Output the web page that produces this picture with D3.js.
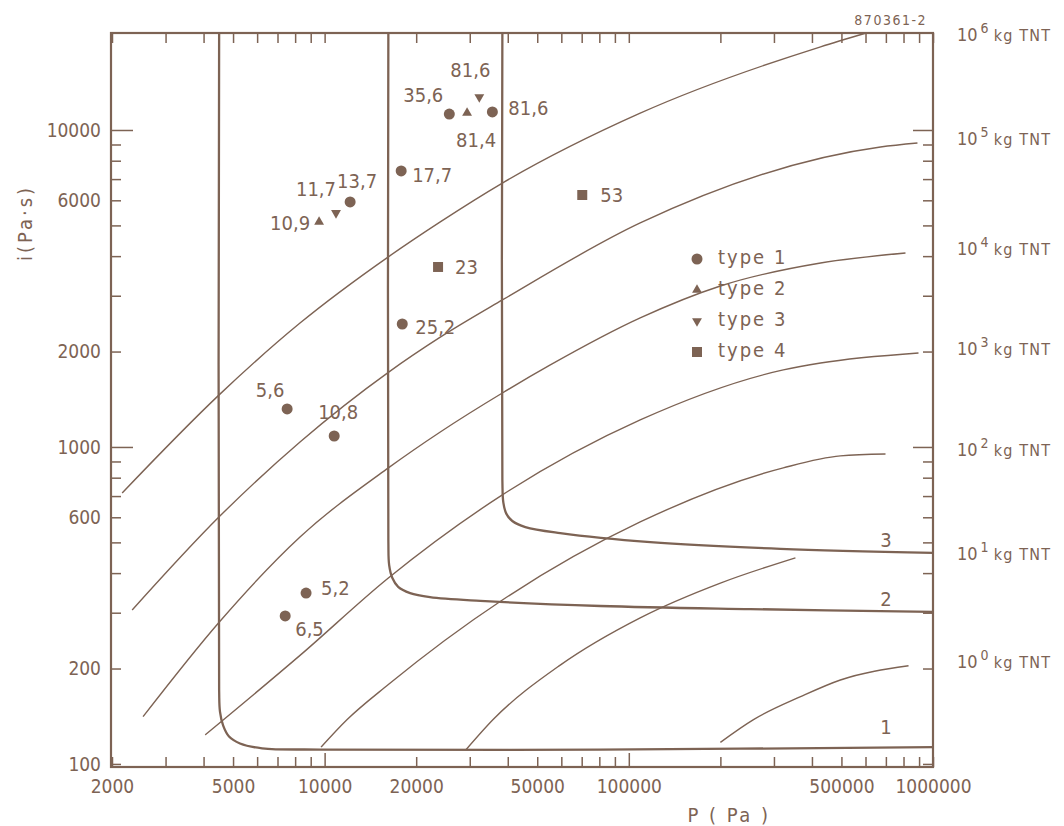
<!DOCTYPE html>
<html>
<head>
<meta charset="utf-8">
<script src="https://cdn.jsdelivr.net/npm/d3@7"></script>
<style>
  body { margin: 0; background: #ffffff; }
  text { font-family: "DejaVu Sans Condensed", "DejaVu Sans", sans-serif; fill: #7d6354; }
</style>
</head>
<body>
<svg id="chart" width="1064" height="826"></svg>
<script>
// Peak overpressure P (Pa) against specific impulse i (Pa·s), log–log,
// with iso-charge curves (kg TNT), damage thresholds 1–3 and observed cases.

// ---- axes ----
const xDomain = [2000, 1000000];
const yDomain = [97.8, 20230];
const xTicks = [2000, 3000, 4000, 5000, 6000, 7000, 8000, 9000,
  10000, 20000, 30000, 40000, 50000, 60000, 70000, 80000, 90000,
  100000, 200000, 300000, 400000, 500000, 600000, 700000, 800000, 900000, 1000000];
const xTickLabels = [2000, 5000, 10000, 20000, 50000, 100000, 500000, 1000000];
const xMajor = [10000, 100000];
const yTicks = [100, 200, 300, 400, 500, 600, 700, 800, 900,
  1000, 2000, 3000, 4000, 5000, 6000, 7000, 8000, 9000, 10000];
const yTickLabels = [100, 200, 600, 1000, 2000, 6000, 10000];
const yMajor = [1000, 10000];

// ---- iso-charge curves, [P, i] ----
const chargeExponents = [6, 5, 4, 3, 2, 1, 0];
const charge1e6 = [[2160, 716], [4500, 1460], [8300, 2460], [16200, 3980], [24000, 5130],
  [38400, 6800], [109000, 11300], [427000, 18300], [600000, 20200]];
const charge1e5 = [[2330, 306], [4500, 602], [8300, 1037], [16200, 1720], [24000, 2220],
  [38400, 2909], [109000, 5090], [672000, 8840], [889000, 9100]];
const charge1e4 = [[2530, 141], [4500, 280], [8300, 520], [16200, 859], [24000, 1115],
  [38400, 1480], [55200, 1814], [109000, 2553], [200000, 3220], [427000, 3805], [812000, 4092]];
const charge1e3 = [[4050, 123.5], [8300, 220], [16200, 386], [38400, 706],
  [109000, 1217], [322000, 1750], [427000, 1841], [896000, 1980]];
const charge1e2 = [[9740, 113], [11860, 138], [16200, 178], [38400, 329], [109000, 580],
  [322000, 859], [496000, 937], [698000, 950]];
const charge1e1 = [[29200, 111], [35800, 138], [59500, 205], [109000, 289], [200000, 372],
  [353000, 447]];
const charge1e0 = [[200000, 117], [257000, 138], [367000, 163], [496000, 184], [831000, 204]];
const chargeCurves = [charge1e6, charge1e5, charge1e4, charge1e3, charge1e2, charge1e1, charge1e0];

// ---- damage thresholds, [P, i] ----
const thresholdNames = ["1", "2", "3"];
const threshold1 = [[4500, 20200], [4500, 171], [4530, 146], [4640, 132], [4850, 122],
  [5270, 116], [6230, 112], [9670, 111], [80600, 111], [1000000, 113]];
const threshold2 = [[16200, 20200], [16200, 509], [16300, 424], [16700, 386], [17450, 362],
  [19100, 346], [22200, 336], [32500, 327], [80600, 315], [251000, 308], [1000000, 302]];
const threshold3 = [[38400, 20200], [38400, 787], [38700, 666], [39600, 615], [41400, 584],
  [45700, 559], [59500, 535], [117700, 501], [315000, 477], [1000000, 463]];
const thresholdCurves = [threshold1, threshold2, threshold3];

// ---- observed cases ----
const caseType  = [1, 1, 1, 1, 1, 1, 1, 1, 1, 2, 2, 3, 3, 4, 4];
const caseP     = [25700, 35600, 17850, 12130, 18000, 7530, 10750, 8690, 7420,
                   29400, 9590, 32250, 10900, 70300, 23600];
const caseI     = [11230, 11400, 7425, 5928, 2443, 1318, 1083, 346, 293,
                   11315, 5127, 12710, 5473, 6237, 3697];
const caseLabel = ["35,6", "81,6", "17,7", "13,7", "25,2", "5,6", "10,8", "5,2", "6,5",
                   "81,4", "10,9", "81,6", "11,7", "53", "23"];
const legendLabels = ["type 1", "type 2", "type 3", "type 4"];

// label placement next to each marker: [dx, dy, anchor]
const labelPlacement = [[-6, -12, "end"], [16, 3, "start"], [11, 11, "start"], [7, -14, "middle"],
  [13, 10, "start"], [-17, -12, "middle"], [4, -17, "middle"], [15, 2, "start"], [10, 20, "start"],
  [9, 34, "middle"], [-9, 8, "end"], [-9, -20, "middle"], [-20, -17, "middle"],
  [18, 7, "start"], [17, 7, "start"]];

// ---- drawing ----
const ink = "#7d6354";
const svg = d3.select("#chart");
const x = d3.scaleLog().domain(xDomain).range([112, 933]);
const y = d3.scaleLog().domain(yDomain).range([767, 33]);
const [x0, x1] = x.range();
const [y0, y1] = y.range();

const chargeLine = d3.line()
  .x(d => x(d[0])).y(d => y(d[1]))
  .curve(d3.curveMonotoneX);
const thresholdLine = d3.line()
  .x(d => x(d[0])).y(d => y(d[1]))
  .curve(d3.curveCatmullRom.alpha(0.5));

// axes (ticks inward)
function styleAxis(g) {
  g.select(".domain").remove();
  g.selectAll(".tick line").attr("stroke", ink).attr("stroke-width", 1.5);
  g.selectAll(".tick text").attr("fill", ink)
    .attr("font-family", "'DejaVu Sans Condensed','DejaVu Sans',sans-serif")
    .attr("font-size", 19);
}
const fmtX = d => xTickLabels.includes(d) ? String(d) : "";
const fmtY = d => yTickLabels.includes(d) ? String(d) : "";

svg.append("g").attr("transform", `translate(0,${y0})`)
  .call(d3.axisBottom(x).tickValues(xTicks).tickFormat(fmtX).tickSizeInner(-10).tickSizeOuter(0).tickPadding(13))
  .call(styleAxis)
  .call(g => g.selectAll(".tick line").attr("y2", d => xMajor.includes(d) ? -14 : -10));

svg.append("g").attr("transform", `translate(0,${y1})`)
  .call(d3.axisTop(x).tickValues(xTicks).tickFormat("").tickSizeInner(-10).tickSizeOuter(0))
  .call(styleAxis);

svg.append("g").attr("transform", `translate(${x0 - 1},0)`)
  .call(d3.axisLeft(y).tickValues(yTicks).tickFormat(fmtY).tickSizeInner(-10).tickSizeOuter(0).tickPadding(10))
  .call(styleAxis)
  .call(g => g.selectAll(".tick line").attr("x2", d => yMajor.includes(d) ? 22 : 10));

svg.append("g").attr("transform", `translate(${x1},0)`)
  .call(d3.axisRight(y).tickValues(yTicks).tickFormat("").tickSizeInner(-10).tickSizeOuter(0))
  .call(styleAxis)
  .call(g => g.selectAll(".tick line").attr("x2", d => yMajor.includes(d) ? -20 : -10));

// frame
svg.append("rect")
  .attr("x", x0 - 1).attr("y", y1)
  .attr("width", x1 - x0 + 1).attr("height", y0 - y1)
  .attr("fill", "none").attr("stroke", ink).attr("stroke-width", 2.2);

// iso-charge curves
svg.append("g").selectAll("path").data(chargeCurves).join("path")
  .attr("d", chargeLine)
  .attr("fill", "none").attr("stroke", ink).attr("stroke-width", 1.4);

// damage thresholds
svg.append("g").selectAll("path").data(thresholdCurves).join("path")
  .attr("d", thresholdLine)
  .attr("fill", "none").attr("stroke", ink).attr("stroke-width", 2.3);

svg.append("g").selectAll("text").data(thresholdCurves).join("text")
  .attr("x", x(700000))
  .attr("y", (d, k) => y(d[d.length - 1][1]) - (k === 0 ? 13 : 6))
  .attr("text-anchor", "middle")
  .attr("font-size", 20)
  .text((d, k) => thresholdNames[k]);

// charge labels at the right
const tnt = svg.append("g").selectAll("text").data(chargeCurves).join("text")
  .attr("x", 957)
  .attr("y", d => Math.max(y(d[d.length - 1][1]) + 2, 41))
  .attr("font-family", "'Liberation Sans', Arial, sans-serif");
tnt.append("tspan").attr("font-size", 18).text("10");
tnt.append("tspan").attr("font-size", 14).attr("dx", 3).attr("dy", -8)
  .text((d, k) => chargeExponents[k]);
tnt.append("tspan").attr("font-size", 16).attr("dx", 5).attr("dy", 8)
  .attr("letter-spacing", 1.2).text("kg TNT");

// markers
const markerSymbol = {
  1: d3.symbol().type(d3.symbolCircle).size(95),
  2: d3.symbol().type(d3.symbolTriangle).size(42),
  3: d3.symbol().type(d3.symbolTriangle).size(42),
  4: d3.symbol().type(d3.symbolSquare).size(100)
};
function drawMarker(sel, type) {
  sel.append("path").attr("d", markerSymbol[type]())
    .attr("transform", type === 3 ? "rotate(180)" : null)
    .attr("fill", ink);
}

const cases = d3.range(caseP.length);
const caseG = svg.append("g").selectAll("g").data(cases).join("g")
  .attr("transform", k => `translate(${x(caseP[k])},${y(caseI[k])})`);
caseG.each(function (k) { drawMarker(d3.select(this), caseType[k]); });
caseG.append("text")
  .attr("x", k => labelPlacement[k][0])
  .attr("y", k => labelPlacement[k][1])
  .attr("text-anchor", k => labelPlacement[k][2])
  .attr("font-size", 20)
  .text(k => caseLabel[k]);

// legend
const legend = svg.append("g").attr("transform", "translate(697,259)")
  .selectAll("g").data(legendLabels).join("g")
  .attr("transform", (d, k) => `translate(0,${k * 31})`);
legend.each(function (d, k) { drawMarker(d3.select(this), k + 1); });
legend.append("text").attr("x", 21).attr("y", 5)
  .attr("font-size", 20).attr("letter-spacing", 2).text(d => d);

// axis titles
svg.append("text").attr("x", 729).attr("y", 822).attr("text-anchor", "middle")
  .attr("font-size", 20).attr("letter-spacing", 2.5).text("P ( Pa )");
svg.append("text").attr("transform", "translate(32,223) rotate(-90)")
  .attr("text-anchor", "middle").attr("font-size", 20).attr("letter-spacing", 3)
  .text("i(Pa·s)");

// figure number
svg.append("text").attr("x", 927).attr("y", 25).attr("text-anchor", "end")
  .attr("font-size", 14).attr("letter-spacing", 1.5).text("870361-2");
</script>
</body>
</html>
